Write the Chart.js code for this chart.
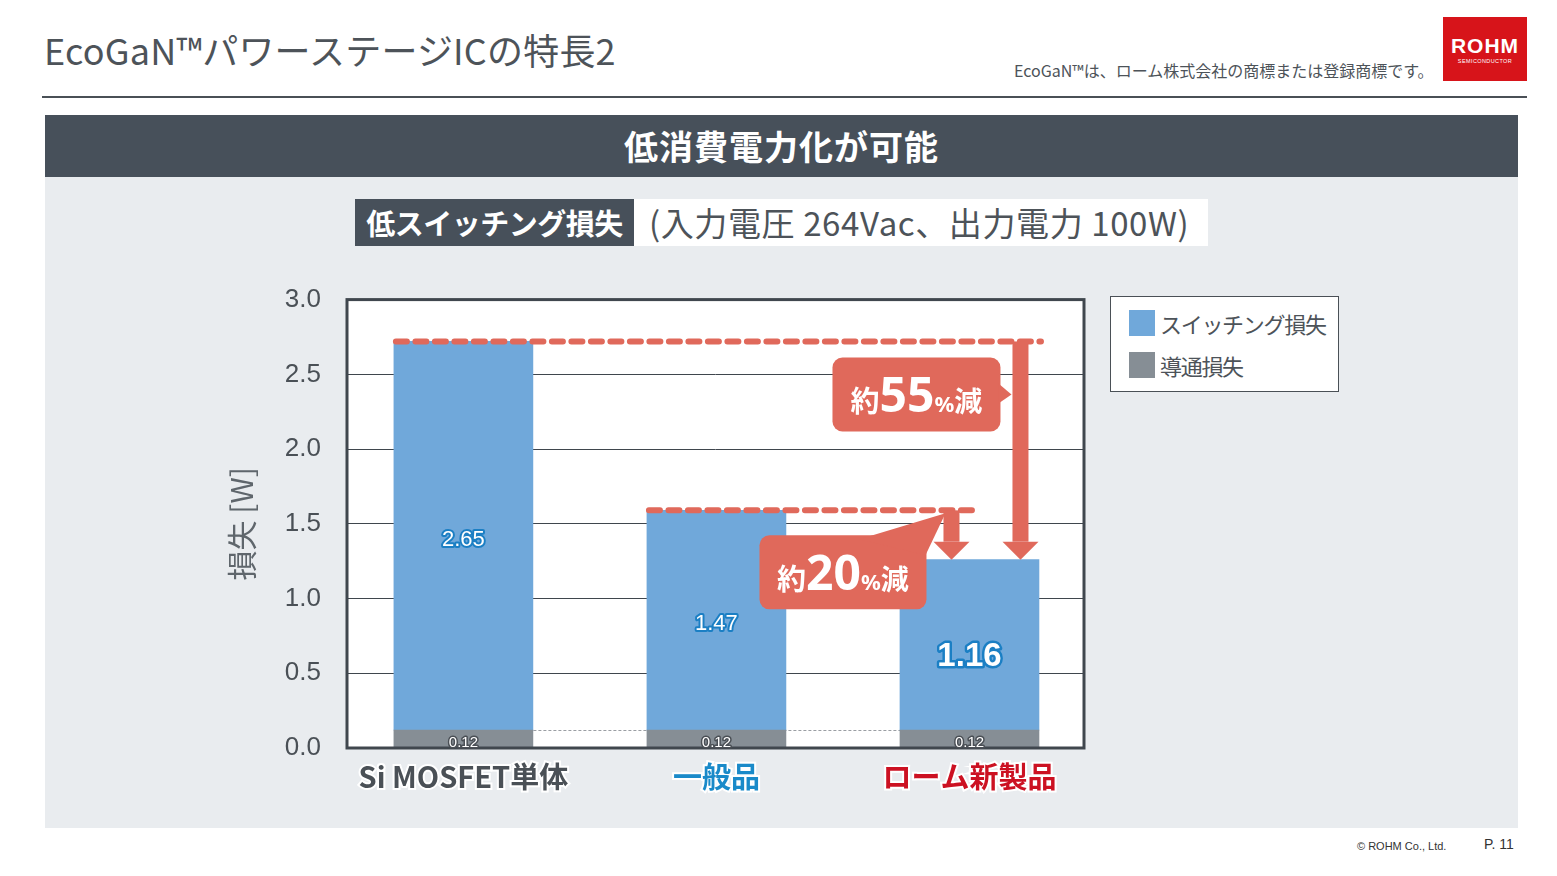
<!DOCTYPE html>
<html>
<head>
<meta charset="utf-8">
<script src="https://cdn.jsdelivr.net/npm/chart.js@4.4.1/dist/chart.umd.min.js"></script>
<style>
  body { margin: 0; width: 1557px; height: 876px; background: #fff; position: relative; overflow: hidden;
         font-family: "Noto Sans CJK JP", "Noto Sans", sans-serif; color: #4a5056; }
  .abs { position: absolute; }
  #title { left: 44px; top: 23px; font-size: 36px; letter-spacing: 0.2px; color: #4d5359; white-space: nowrap; }
  #tm { left: 1014px; top: 58px; font-size: 16px; color: #4d5359; white-space: nowrap; }
  #logo { left: 1443px; top: 17px; width: 84px; height: 64px; background: #d7141a; color: #fff; text-align: center; }
  #logo .r { font-family: "Liberation Sans", sans-serif; font-weight: 700; font-size: 21px; margin-top: 18px; letter-spacing: 1px; line-height: 22px; }
  #logo .s { font-family: "Liberation Sans", sans-serif; font-size: 5.5px; letter-spacing: 0.4px; line-height: 8px; }
  #rule { left: 42px; top: 96px; width: 1485px; height: 2px; background: #4a5056; }
  #panel { left: 45px; top: 177px; width: 1473px; height: 651px; background: #e9ecef; }
  #banner { left: 45px; top: 115px; width: 1473px; height: 62px; background: #47505a; color: #fff;
            font-weight: 700; font-size: 34px; text-align: center; line-height: 62px; letter-spacing: 1px; }
  #subL { left: 355px; top: 199px; width: 279px; height: 47px; background: #47505a; color: #fff;
          font-weight: 700; font-size: 29px; line-height: 47px; text-align: center; letter-spacing: -0.5px; }
  #subR { left: 634px; top: 199px; width: 574px; height: 47px; background: #fff; color: #4d5359;
          font-size: 33px; line-height: 47px; padding-left: 15px; box-sizing: border-box; white-space: nowrap; letter-spacing: 0.6px; }
  #wrap { left: 220px; top: 258px; width: 880px; height: 562px; }
  #legend { left: 1110px; top: 296px; width: 227px; height: 94px; background: #fff; border: 1px solid #4a5056; }
  .li { position: absolute; left: 18px; height: 26px; display: flex; align-items: center; font-size: 22px; color: #4d5359; letter-spacing: -1.3px; white-space: nowrap; }
  .sw { width: 26px; height: 26px; margin-right: 5px; }
  #copy { left: 1357px; top: 840px; font-family: "Liberation Sans", sans-serif; font-size: 11px; color: #333; }
  #page { left: 1484px; top: 836px; font-family: "Liberation Sans", sans-serif; font-size: 14px; color: #333; }
</style>
</head>
<body>
<div id="title" class="abs">EcoGaN™パワーステージICの特長2</div>
<div id="tm" class="abs">EcoGaN™は、ローム株式会社の商標または登録商標です。</div>
<div id="logo" class="abs"><div class="r">ROHM</div><div class="s">SEMICONDUCTOR</div></div>
<div id="rule" class="abs"></div>
<div id="panel" class="abs"></div>
<div id="banner" class="abs">低消費電力化が可能</div>
<div id="subL" class="abs">低スイッチング損失</div>
<div id="subR" class="abs">(入力電圧 264Vac、出力電力 100W)</div>
<div id="wrap" class="abs"><canvas id="c" width="880" height="562"></canvas></div>
<div id="legend" class="abs"></div>
<div id="copy" class="abs">© ROHM Co., Ltd.</div>
<div id="page" class="abs">P. 11</div>

<script>
// chart data
const categories = ['Si MOSFET単体', '一般品', 'ローム新製品'];
const categoryColors = ['#4a5056', '#1a8ac9', '#cc1122'];
const conductionLoss = [0.12, 0.12, 0.12];
const switchingLoss = [2.6, 1.47, 1.14];          // drawn heights
const switchingLabels = ['2.65', '1.47', '1.16'];  // printed values
const conductionLabels = ['0.12', '0.12', '0.12'];
const seriesNames = ['導通損失', 'スイッチング損失'];
const seriesColors = ['#868e95', '#70a8da'];
const yTicks = [0, 0.5, 1.0, 1.5, 2.0, 2.5, 3.0];
const reductions = ['55', '20'];

const RED = '#e0695b';

// legend (switching first, as in the slide)
const legend = document.getElementById('legend');
[1, 0].forEach((s, k) => {
  const d = document.createElement('div');
  d.className = 'li';
  d.style.top = (13 + k * 42) + 'px';
  d.innerHTML = '<div class="sw" style="background:' + seriesColors[s] + '"></div>' + seriesNames[s];
  legend.appendChild(d);
});

function outlined(ctx, text, x, y, font, stroke, lw) {
  ctx.font = font;
  ctx.textAlign = 'center';
  ctx.textBaseline = 'middle';
  ctx.lineJoin = 'round';
  ctx.strokeStyle = stroke;
  ctx.lineWidth = lw;
  ctx.strokeText(text, x, y);
  ctx.fillStyle = '#fff';
  ctx.fillText(text, x, y);
}

function dashed(ctx, x0, x1, y) {
  ctx.save();
  ctx.strokeStyle = RED;
  ctx.lineWidth = 6;
  ctx.lineCap = 'round';
  ctx.setLineDash([11, 8.5]);
  ctx.beginPath();
  ctx.moveTo(x0, y);
  ctx.lineTo(x1, y);
  ctx.stroke();
  ctx.restore();
}

function arrow(ctx, x, yTop, yTip) {
  ctx.fillStyle = RED;
  ctx.fillRect(x - 8, yTop, 16, yTip - 18 - yTop);
  ctx.beginPath();
  ctx.moveTo(x - 18, yTip - 18);
  ctx.lineTo(x + 18, yTip - 18);
  ctx.lineTo(x, yTip);
  ctx.closePath();
  ctx.fill();
}

function callout(ctx, bx, by, bw, bh, pct, pointer) {
  ctx.fillStyle = RED;
  ctx.beginPath();
  ctx.roundRect(bx, by, bw, bh, 10);
  ctx.fill();
  ctx.beginPath();
  ctx.moveTo(pointer[0][0], pointer[0][1]);
  ctx.lineTo(pointer[1][0], pointer[1][1]);
  ctx.lineTo(pointer[2][0], pointer[2][1]);
  ctx.closePath();
  ctx.fill();
  const parts = [
    { t: '約', f: '700 29px "Noto Sans CJK JP"' },
    { t: pct, f: '700 48px "Noto Sans", "Noto Sans CJK JP"' },
    { t: '%', f: '700 22px "Noto Sans", "Noto Sans CJK JP"' },
    { t: '減', f: '700 28px "Noto Sans CJK JP"' }
  ];
  let w = 0;
  parts.forEach(p => { ctx.font = p.f; p.w = ctx.measureText(p.t).width; w += p.w; });
  let x = bx + (bw - w) / 2;
  const base = by + 55;
  ctx.fillStyle = '#fff';
  ctx.textAlign = 'left';
  ctx.textBaseline = 'alphabetic';
  parts.forEach(p => { ctx.font = p.f; ctx.fillText(p.t, x, base); x += p.w; });
}

const slidePlugin = {
  id: 'slide',
  beforeDraw(chart) {
    const a = chart.chartArea, ctx = chart.ctx;
    ctx.save();
    ctx.fillStyle = '#fff';
    ctx.fillRect(a.left, a.top, a.right - a.left, a.bottom - a.top);
    ctx.restore();
  },
  beforeDatasetsDraw(chart) {
    // thin dashed connector at the conduction level
    const ctx = chart.ctx, y = chart.scales.y;
    const bars = chart.getDatasetMeta(0).data;
    ctx.save();
    ctx.strokeStyle = '#9a9ea3';
    ctx.lineWidth = 1;
    ctx.setLineDash([3, 2]);
    ctx.beginPath();
    const yy = Math.round(y.getPixelForValue(conductionLoss[0])) + 0.5;
    ctx.moveTo(bars[0].x, yy);
    ctx.lineTo(bars[2].x - bars[2].width / 2, yy);
    ctx.stroke();
    ctx.restore();
  },
  afterDatasetsDraw(chart) {
    const ctx = chart.ctx, a = chart.chartArea, y = chart.scales.y;
    const cond = chart.getDatasetMeta(0).data;
    const sw = chart.getDatasetMeta(1).data;
    ctx.save();

    // plot frame
    ctx.strokeStyle = '#40474e';
    ctx.lineWidth = 3;
    ctx.strokeRect(a.left, a.top, a.right - a.left, a.bottom - a.top);

    // value labels
    sw.forEach((b, i) => {
      const big = i === 2;
      const mid = (b.y + b.base) / 2 + (big ? 12 : 4);
      outlined(ctx, switchingLabels[i], b.x, mid,
        big ? '700 33px "Liberation Sans"' : '22px "Liberation Sans"', '#1b7fc4', big ? 5 : 4);
    });
    cond.forEach((b, i) => {
      outlined(ctx, conductionLabels[i], b.x, (b.y + b.base) / 2 + 4, '15px "Liberation Sans"', '#4a4f55', 3);
    });

    // reduction markers
    const top0 = y.getPixelForValue(conductionLoss[0] + switchingLoss[0]);
    const top1 = y.getPixelForValue(conductionLoss[1] + switchingLoss[1]);
    const top2 = y.getPixelForValue(conductionLoss[2] + switchingLoss[2]);
    const b0 = sw[0], b1 = sw[1], b2 = sw[2];
    const longX = b2.x + 51, shortX = b2.x - 18;
    dashed(ctx, b0.x - b0.width / 2 + 2, b2.x + b2.width / 2 + 2, top0);
    dashed(ctx, b1.x - b1.width / 2 + 2, shortX + 24, top1);
    arrow(ctx, longX, top0, top2);
    arrow(ctx, shortX, top1, top2);

    const bx55 = longX - 188, by55 = top0 + 16;
    callout(ctx, bx55, by55, 168, 74, reductions[0],
      [[bx55 + 166, by55 + 26], [longX - 9, by55 + 37], [bx55 + 166, by55 + 46]]);
    const bx20 = shortX - 192, by20 = top1 + 25;
    callout(ctx, bx20, by20, 167, 74, reductions[1],
      [[bx20 + 100, by20 + 4], [shortX - 6, top1 + 3], [bx20 + 166, by20 + 20]]);

    ctx.restore();
  }
};

new Chart(document.getElementById('c'), {
  type: 'bar',
  data: {
    datasets: [
      {
        label: seriesNames[0],
        data: conductionLoss.map((v, i) => ({ x: i, y: v })),
        backgroundColor: seriesColors[0],
        borderWidth: 0,
        barThickness: 139
      },
      {
        label: seriesNames[1],
        data: switchingLoss.map((v, i) => ({ x: i, y: v })),
        backgroundColor: seriesColors[1],
        borderWidth: 0,
        barThickness: 139
      }
    ]
  },
  options: {
    responsive: false,
    animation: false,
    layout: { padding: { top: 19, right: 16, left: 0, bottom: 0 } },
    plugins: { legend: { display: false }, tooltip: { enabled: false } },
    scales: {
      x: {
        type: 'linear',
        stacked: true,
        offset: false,
        bounds: 'data',
        min: -0.46,
        max: 2.4526,
        grid: { display: false, offset: false },
        border: { display: false },
        afterBuildTicks: s => { s.ticks = categories.map((c, i) => ({ value: i })); },
        afterFit: s => { s.height = 72; },
        ticks: {
          autoSkip: false,
          maxRotation: 0,
          padding: 4,
          callback: v => categories[v] !== undefined ? categories[v] : '',
          color: categoryColors,
          textStrokeColor: '#ffffff',
          textStrokeWidth: 4,
          font: { family: '"Noto Sans CJK JP"', weight: '700', size: 29 }
        }
      },
      y: {
        stacked: true,
        min: 0,
        max: 3,
        afterBuildTicks: s => { s.ticks = yTicks.map(v => ({ value: v })); },
        afterFit: s => { s.width = 127; },
        grid: { color: '#3f464d', lineWidth: 1, drawTicks: false },
        border: { display: false },
        title: {
          display: true,
          text: '損失 [W]',
          color: '#5f666c',
          padding: { top: 4, bottom: 0 },
          font: { family: '"Noto Sans CJK JP"', size: 30 }
        },
        ticks: {
          padding: 26,
          color: '#4a5056',
          callback: v => Number(v).toFixed(1),
          font: { family: '"Liberation Sans"', size: 26 }
        }
      }
    }
  },
  plugins: [slidePlugin]
});
</script>
</body>
</html>
